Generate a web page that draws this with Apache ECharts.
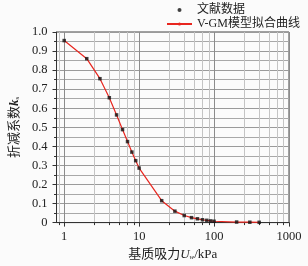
<!DOCTYPE html>
<html>
<head>
<meta charset="utf-8">
<script src="https://cdn.jsdelivr.net/npm/echarts@6/dist/echarts.min.js"></script>
<style>
  html, body { margin: 0; padding: 0; background: #fbfbfb; }
  #chart { width: 308px; height: 266px; }
</style>
</head>
<body>
<div id="chart"></div>
<script>
// 基质吸力 (kPa) 与 折减系数
const suction = [1, 2, 3, 4, 5, 6, 7, 8, 9, 10, 20, 30, 40, 50, 60, 70, 80, 90, 100, 200, 300, 400]
const ks = [0.955, 0.86, 0.755, 0.655, 0.565, 0.488, 0.425, 0.37, 0.325, 0.286, 0.115, 0.06, 0.037, 0.026, 0.02, 0.015, 0.012, 0.009, 0.007, 0.003, 0.002, 0.0015]
const xMajorTicks = [1, 10, 100, 1000]
const xMinorTicks = [0.85, 2.5, 4, 5.5, 7, 8.5, 25, 40, 55, 70, 85, 250, 400, 550, 700, 850]

const serif = "'Liberation Serif', 'Noto Sans CJK SC', serif"
const points = suction.map((x, i) => [x, ks[i]])

const chart = echarts.init(document.getElementById('chart'), null, {renderer: 'canvas'})
chart.setOption({
  animation: false,
  backgroundColor: '#fbfbfb',
  grid: {
    left: 46,
    right: 19,
    top: 32,
    bottom: 38,
    show: true,
    borderColor: '#444',
    borderWidth: 1,
    backgroundColor: 'transparent'
  },
  legend: {
    orient: 'vertical',
    left: 166,
    top: 4,
    itemWidth: 25,
    itemHeight: 4,
    itemGap: 2,
    padding: 0,
    textStyle: {fontFamily: serif, fontSize: 12, color: '#222'},
    data: [
      {name: '文献数据', icon: 'circle'},
      {name: 'V-GM模型拟合曲线'}
    ]
  },
  xAxis: [
    {
      type: 'log',
      min: 0.79,
      max: 1000,
      name: '基质吸力{u|U}{w|w}/kPa',
      nameLocation: 'middle',
      nameGap: 19,
      nameTextStyle: {
        fontFamily: serif, fontSize: 13, color: '#222',
        rich: {
          u: {fontFamily: serif, fontStyle: 'italic', fontSize: 13, color: '#222'},
          w: {fontFamily: serif, fontStyle: 'italic', fontSize: 7, color: '#222', padding: [6, 0, 0, 0]}
        }
      },
      axisLine: {show: true, lineStyle: {color: '#333', width: 1}},
      axisTick: {show: true, length: 4, customValues: xMajorTicks, lineStyle: {color: '#333'}},
      axisLabel: {
        customValues: xMajorTicks,
        margin: 8,
        fontFamily: serif, fontSize: 12.5, color: '#222',
        formatter: v => String(Math.round(v))
      },
      splitLine: {show: true, lineStyle: {color: '#8c8c8c', width: 1}}
    },
    {
      type: 'log',
      min: 0.79,
      max: 1000,
      position: 'bottom',
      axisLine: {show: false},
      axisTick: {show: true, length: 2.5, customValues: xMinorTicks, lineStyle: {color: '#333'}},
      axisLabel: {show: false},
      splitLine: {show: true, lineStyle: {color: '#c4c4c4', width: 1}}
    }
  ],
  yAxis: {
    type: 'value',
    min: 0,
    max: 1,
    interval: 0.1,
    name: '折减系数{k|k}{s|s}',
    nameLocation: 'middle',
    nameGap: 27,
    nameRotate: 90,
    nameTextStyle: {
      fontFamily: serif, fontSize: 13, color: '#222',
      rich: {
        k: {fontFamily: serif, fontStyle: 'italic', fontWeight: 'bold', fontSize: 13, color: '#222'},
        s: {fontFamily: serif, fontSize: 7, color: '#222', padding: [6, 0, 0, 0]}
      }
    },
    axisLine: {show: true, lineStyle: {color: '#333', width: 1}},
    axisTick: {show: true, length: 4, lineStyle: {color: '#333'}},
    minorTick: {show: true, splitNumber: 2, length: 2.5, lineStyle: {color: '#333'}},
    axisLabel: {
      margin: 9,
      fontFamily: serif, fontSize: 12.5, color: '#222',
      formatter: v => (v === 0 ? '0' : v.toFixed(1))
    },
    splitLine: {show: true, lineStyle: {color: '#9a9a9a', width: 1}},
    minorSplitLine: {show: true, lineStyle: {color: '#a8a8a8', width: 1}}
  },
  series: [
    {
      name: 'V-GM模型拟合曲线',
      type: 'line',
      data: points,
      showSymbol: false,
      symbol: 'none',
      lineStyle: {color: '#e8261f', width: 1.2},
      itemStyle: {color: '#e8261f'},
      z: 3
    },
    {
      name: '文献数据',
      type: 'scatter',
      data: points,
      symbol: 'rect',
      symbolSize: 3.5,
      itemStyle: {color: '#111'},
      z: 4
    }
  ]
})
</script>
</body>
</html>
